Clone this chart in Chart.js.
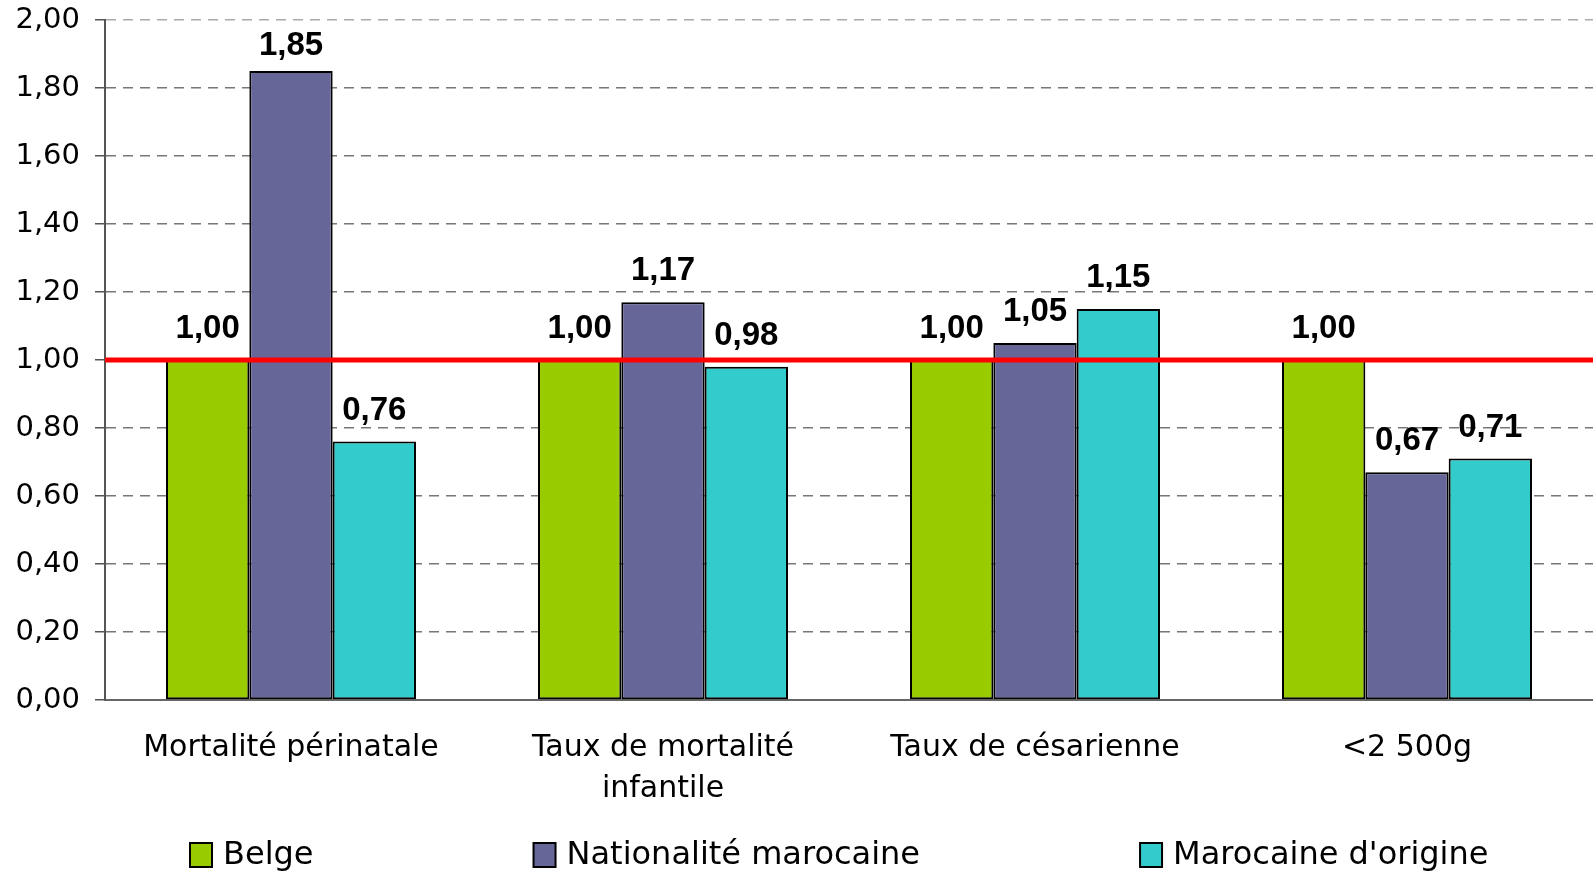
<!DOCTYPE html>
<html>
<head>
<meta charset="utf-8">
<script src="https://cdn.jsdelivr.net/npm/chart.js@4.4.1/dist/chart.umd.min.js"></script>
<style>
    html, body { margin: 0; padding: 0; background: #fff; overflow: hidden; }
    #wrap { width: 1593px; height: 874px; position: relative; }
</style>
</head>
<body>
<div id="wrap"><canvas id="Chart"></canvas></div>
<script>
// data
const categories = ["Mortalité périnatale", ["Taux de mortalité", "infantile"], "Taux de césarienne", "<2 500g"];
const seriesNames = ["Belge", "Nationalité marocaine", "Marocaine d'origine"];
const belge = [1.00, 1.00, 1.00, 1.00];
const nationaliteMarocaine = [1.85, 1.17, 1.05, 0.67];
const marocaineOrigine = [0.76, 0.98, 1.15, 0.71];
const yMin = 0;
const yMax = 2;
const yStep = 0.2;
const referenceValue = 1.00;

const colors = ["#99cc00", "#666699", "#33cccc"];

function fmt(v) {
    return v.toFixed(2).replace(".", ",");
}

// red reference line at 1,00
const refLine = {
    id: "refLine",
    afterDatasetsDraw(chart) {
        let ctx = chart.ctx;
        let y = chart.scales.y.getPixelForValue(referenceValue);
        ctx.save();
        ctx.strokeStyle = "#ff0000";
        ctx.lineWidth = 5;
        ctx.beginPath();
        ctx.moveTo(chart.chartArea.left, y);
        ctx.lineTo(chart.width, y);
        ctx.stroke();
        ctx.restore();
    }
};

// values above the bars
const valueLabels = {
    id: "valueLabels",
    afterDatasetsDraw(chart) {
        let ctx = chart.ctx;
        ctx.save();
        ctx.font = "bold 33px 'Liberation Sans', Arial, sans-serif";
        ctx.fillStyle = "#000";
        ctx.textAlign = "center";
        ctx.textBaseline = "alphabetic";
        chart.data.datasets.forEach(function (ds, i) {
            chart.getDatasetMeta(i).data.forEach(function (bar, j) {
                let y = Math.max(bar.y - 22, chart.chartArea.top + 35);
                ctx.fillText(fmt(ds.data[j]), bar.x, y);
            });
        });
        ctx.restore();
    }
};

// legend along the bottom, spaced like the original
const bottomLegend = {
    id: "bottomLegend",
    afterDraw(chart) {
        let ctx = chart.ctx;
        let x = 190;
        let y = 855;
        ctx.save();
        ctx.font = "32px 'DejaVu Sans', sans-serif";
        ctx.textBaseline = "middle";
        ctx.textAlign = "left";
        chart.data.datasets.forEach(function (ds) {
            ctx.fillStyle = ds.backgroundColor;
            ctx.fillRect(x, y - 12, 22, 24);
            ctx.strokeStyle = "#000";
            ctx.lineWidth = 2;
            ctx.strokeRect(x, y - 12, 22, 24);
            ctx.fillStyle = "#000";
            ctx.fillText(ds.label, x + 33, y + 1);
            x += 33 + ctx.measureText(ds.label).width + 220;
        });
        ctx.restore();
    }
};

const ctx = document.getElementById("Chart").getContext("2d");

const chart = new Chart(ctx, {
    type: "bar",
    data: {
        labels: categories,
        datasets: [
            { label: seriesNames[0], data: belge, backgroundColor: colors[0] },
            { label: seriesNames[1], data: nationaliteMarocaine, backgroundColor: colors[1] },
            { label: seriesNames[2], data: marocaineOrigine, backgroundColor: colors[2] }
        ]
    },
    options: {
        responsive: true,
        maintainAspectRatio: false,
        animation: false,
        layout: {
            padding: { top: 20, right: -7, left: 0, bottom: 0 }
        },
        datasets: {
            bar: {
                categoryPercentage: 0.672,
                barPercentage: 1.0,
                borderColor: "#000",
                borderWidth: 2,
                borderSkipped: false
            }
        },
        scales: {
            x: {
                grid: { display: false, drawTicks: false },
                border: { display: true, color: "#666", width: 2 },
                ticks: {
                    color: "#000",
                    padding: 28,
                    maxRotation: 0,
                    autoSkip: false,
                    font: { family: "'DejaVu Sans', sans-serif", size: 30, lineHeight: 1.37 }
                },
                afterFit: function (scale) {
                    scale.height = 174;
                }
            },
            y: {
                min: yMin,
                max: yMax,
                ticks: {
                    stepSize: yStep,
                    color: "#000",
                    padding: 15,
                    font: { family: "'DejaVu Sans', sans-serif", size: 29 },
                    callback: function (v) { return fmt(v); }
                },
                grid: {
                    color: function (c) { return c.tick && c.tick.value === yMax ? "#aaaaaa" : "#777777"; },
                    tickColor: "#555",
                    tickLength: 10,
                    lineWidth: 1.5
                },
                border: { display: true, color: "#555", width: 2, dash: [10, 7] },
                afterFit: function (scale) {
                    scale.width = 105;
                    scale.paddingTop = 0;
                    scale.paddingBottom = 0;
                }
            }
        },
        plugins: {
            legend: { display: false },
            title: { display: false },
            tooltip: { enabled: false }
        }
    },
    plugins: [refLine, valueLabels, bottomLegend]
});
</script>
</body>
</html>
